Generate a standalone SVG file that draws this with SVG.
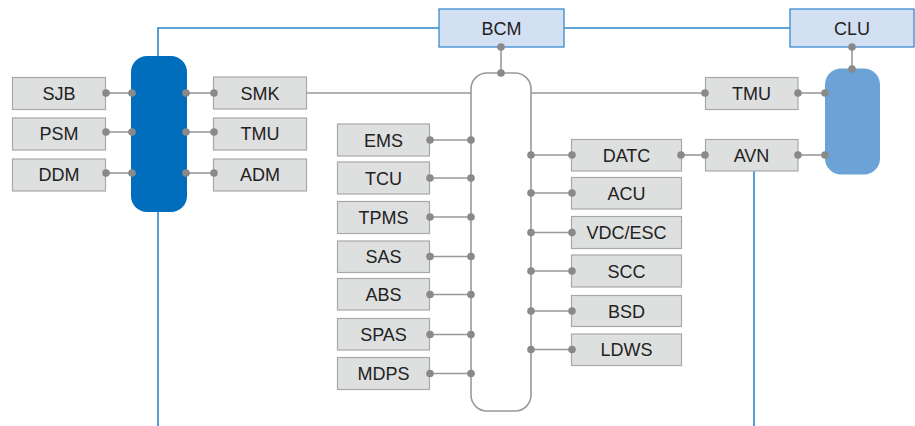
<svg xmlns="http://www.w3.org/2000/svg" width="915" height="426" viewBox="0 0 915 426">
  <style>
    .box { fill: #dedfdf; stroke: #a8a8a8; stroke-width: 1.2; }
    .top { fill: #d3e0f2; stroke: #3a8bd0; stroke-width: 1.3; }
    .lbl { font-family: "Liberation Sans", Arial, sans-serif; font-size: 18px; fill: #222; text-anchor: middle; dominant-baseline: central; }
    .wire { stroke: #999; stroke-width: 1.6; fill: none; }
    .blue { stroke: #2f86cc; stroke-width: 1.6; fill: none; }
    .dot { fill: #898989; }
  </style>

  <!-- blue backbone lines -->
  <g id="backbone">
    <polyline class="blue" points="158,426 158,28 439,28"/>
    <line class="blue" x1="564" y1="28" x2="790" y2="28"/>
    <line class="blue" x1="754" y1="171" x2="754" y2="426"/>
  </g>

  <!-- gray connectors -->
  <g id="connectors">
    <line class="wire" x1="106" y1="93" x2="132" y2="93"/>
    <line class="wire" x1="106" y1="132" x2="132" y2="132"/>
    <line class="wire" x1="106" y1="173" x2="132" y2="173"/>
    <line class="wire" x1="186" y1="93" x2="214" y2="93"/>
    <line class="wire" x1="186" y1="132" x2="214" y2="132"/>
    <line class="wire" x1="186" y1="173" x2="214" y2="173"/>
    <line class="wire" x1="307" y1="93" x2="705" y2="93"/>
    <line class="wire" x1="501" y1="47" x2="501" y2="73"/>
    <line class="wire" x1="852" y1="47" x2="852" y2="69"/>
    <line class="wire" x1="798" y1="93" x2="825" y2="93"/>
    <line class="wire" x1="798" y1="155" x2="825" y2="155"/>
    <line class="wire" x1="681" y1="155" x2="705" y2="155"/>
    <line class="wire" x1="430" y1="140" x2="471" y2="140"/>
    <line class="wire" x1="430" y1="178" x2="471" y2="178"/>
    <line class="wire" x1="430" y1="217" x2="471" y2="217"/>
    <line class="wire" x1="430" y1="256.5" x2="471" y2="256.5"/>
    <line class="wire" x1="430" y1="294.5" x2="471" y2="294.5"/>
    <line class="wire" x1="430" y1="334.5" x2="471" y2="334.5"/>
    <line class="wire" x1="430" y1="373.5" x2="471" y2="373.5"/>
    <line class="wire" x1="531" y1="155" x2="572" y2="155"/>
    <line class="wire" x1="531" y1="193" x2="572" y2="193"/>
    <line class="wire" x1="531" y1="232.5" x2="572" y2="232.5"/>
    <line class="wire" x1="531" y1="271" x2="572" y2="271"/>
    <line class="wire" x1="531" y1="311" x2="572" y2="311"/>
    <line class="wire" x1="531" y1="349.5" x2="572" y2="349.5"/>
  </g>

  <!-- buses -->
  <g id="bus-left"><rect x="131" y="56" width="56" height="156" rx="16" fill="#006ebd"/></g>
  <g id="bus-center"><rect x="471" y="73" width="60" height="338" rx="16" fill="#fff" stroke="#999" stroke-width="1.6"/></g>
  <g id="bus-right"><rect x="825" y="68.5" width="55" height="106" rx="16" fill="#6ba3d7"/></g>

  <!-- top gateway nodes -->
  <g id="BCM"><rect class="top" x="439" y="9" width="125" height="38"/><text class="lbl" x="501.5" y="28.5">BCM</text></g>
  <g id="CLU"><rect class="top" x="790" y="9" width="124" height="38"/><text class="lbl" x="852" y="28.5">CLU</text></g>

  <!-- left cluster -->
  <g id="SJB"><rect class="box" x="12.5" y="77.5" width="93" height="32"/><text class="lbl" x="59" y="94">SJB</text></g>
  <g id="PSM"><rect class="box" x="12.5" y="118" width="93" height="32"/><text class="lbl" x="59" y="134">PSM</text></g>
  <g id="DDM"><rect class="box" x="12.5" y="159" width="93" height="32"/><text class="lbl" x="59" y="175">DDM</text></g>
  <g id="SMK"><rect class="box" x="213.5" y="77" width="93" height="32"/><text class="lbl" x="260" y="93.5">SMK</text></g>
  <g id="TMU-1"><rect class="box" x="213.5" y="118" width="93" height="32"/><text class="lbl" x="260" y="134">TMU</text></g>
  <g id="ADM"><rect class="box" x="213.5" y="159" width="93" height="32"/><text class="lbl" x="260" y="175">ADM</text></g>

  <!-- center-left column -->
  <g id="EMS"><rect class="box" x="337.5" y="124" width="92" height="32"/><text class="lbl" x="383.5" y="140.5">EMS</text></g>
  <g id="TCU"><rect class="box" x="337.5" y="162" width="92" height="32"/><text class="lbl" x="383.5" y="178.5">TCU</text></g>
  <g id="TPMS"><rect class="box" x="337.5" y="201.5" width="92" height="32"/><text class="lbl" x="383.5" y="218">TPMS</text></g>
  <g id="SAS"><rect class="box" x="337.5" y="241" width="92" height="31.5"/><text class="lbl" x="383.5" y="257">SAS</text></g>
  <g id="ABS"><rect class="box" x="337.5" y="278.5" width="92" height="31.5"/><text class="lbl" x="383.5" y="295">ABS</text></g>
  <g id="SPAS"><rect class="box" x="337.5" y="318.5" width="92" height="31.5"/><text class="lbl" x="383.5" y="335">SPAS</text></g>
  <g id="MDPS"><rect class="box" x="337.5" y="357.5" width="92" height="32"/><text class="lbl" x="383.5" y="374">MDPS</text></g>

  <!-- center-right column -->
  <g id="DATC"><rect class="box" x="571.5" y="139.5" width="110" height="31.5"/><text class="lbl" x="626.5" y="155.5">DATC</text></g>
  <g id="ACU"><rect class="box" x="571.5" y="177.5" width="110" height="31.5"/><text class="lbl" x="626.5" y="193.5">ACU</text></g>
  <g id="VDC-ESC"><rect class="box" x="571.5" y="216.5" width="110" height="32"/><text class="lbl" x="626.5" y="233">VDC/ESC</text></g>
  <g id="SCC"><rect class="box" x="571.5" y="255" width="110" height="32"/><text class="lbl" x="626.5" y="271.5">SCC</text></g>
  <g id="BSD"><rect class="box" x="571.5" y="295.5" width="110" height="31"/><text class="lbl" x="626.5" y="311.5">BSD</text></g>
  <g id="LDWS"><rect class="box" x="571.5" y="334" width="110" height="31.5"/><text class="lbl" x="626.5" y="350">LDWS</text></g>

  <!-- right cluster -->
  <g id="TMU-2"><rect class="box" x="705.5" y="77.5" width="92.5" height="32"/><text class="lbl" x="751.5" y="94">TMU</text></g>
  <g id="AVN"><rect class="box" x="705.5" y="139.5" width="92.5" height="31.5"/><text class="lbl" x="751.5" y="155.5">AVN</text></g>

  <!-- connection points -->
  <g id="dots" class="dot">
    <circle cx="106" cy="93" r="3.8"/><circle cx="132" cy="93" r="3.8"/>
    <circle cx="106" cy="132" r="3.8"/><circle cx="132" cy="132" r="3.8"/>
    <circle cx="106" cy="173" r="3.8"/><circle cx="132" cy="173" r="3.8"/>
    <circle cx="186" cy="93" r="3.8"/><circle cx="214" cy="93" r="3.8"/>
    <circle cx="186" cy="132" r="3.8"/><circle cx="214" cy="132" r="3.8"/>
    <circle cx="186" cy="173" r="3.8"/><circle cx="214" cy="173" r="3.8"/>
    <circle cx="501" cy="47" r="3.8"/><circle cx="501" cy="73" r="3.8"/>
    <circle cx="852" cy="47" r="3.8"/><circle cx="852" cy="69" r="3.8"/>
    <circle cx="705" cy="93" r="3.8"/><circle cx="798" cy="93" r="3.8"/><circle cx="825" cy="93" r="3.8"/>
    <circle cx="681" cy="155" r="3.8"/><circle cx="705" cy="155" r="3.8"/>
    <circle cx="798" cy="155" r="3.8"/><circle cx="825" cy="155" r="3.8"/>
    <circle cx="430" cy="140" r="3.8"/><circle cx="471" cy="140" r="3.8"/>
    <circle cx="430" cy="178" r="3.8"/><circle cx="471" cy="178" r="3.8"/>
    <circle cx="430" cy="217" r="3.8"/><circle cx="471" cy="217" r="3.8"/>
    <circle cx="430" cy="256.5" r="3.8"/><circle cx="471" cy="256.5" r="3.8"/>
    <circle cx="430" cy="294.5" r="3.8"/><circle cx="471" cy="294.5" r="3.8"/>
    <circle cx="430" cy="334.5" r="3.8"/><circle cx="471" cy="334.5" r="3.8"/>
    <circle cx="430" cy="373.5" r="3.8"/><circle cx="471" cy="373.5" r="3.8"/>
    <circle cx="531" cy="155" r="3.8"/><circle cx="572" cy="155" r="3.8"/>
    <circle cx="531" cy="193" r="3.8"/><circle cx="572" cy="193" r="3.8"/>
    <circle cx="531" cy="232.5" r="3.8"/><circle cx="572" cy="232.5" r="3.8"/>
    <circle cx="531" cy="271" r="3.8"/><circle cx="572" cy="271" r="3.8"/>
    <circle cx="531" cy="311" r="3.8"/><circle cx="572" cy="311" r="3.8"/>
    <circle cx="531" cy="349.5" r="3.8"/><circle cx="572" cy="349.5" r="3.8"/>
  </g>
</svg>
